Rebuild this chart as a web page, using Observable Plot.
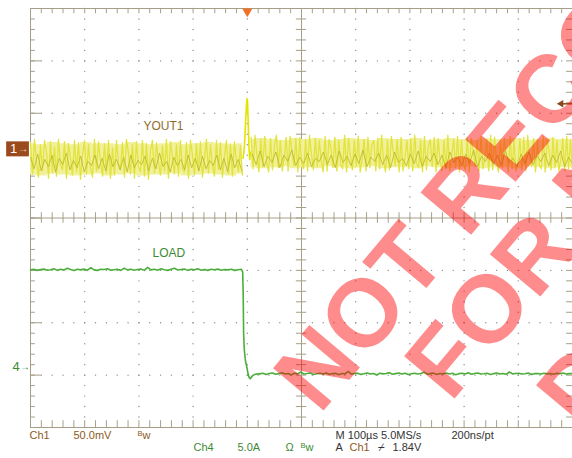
<!DOCTYPE html>
<html><head><meta charset="utf-8">
<script src="https://cdn.jsdelivr.net/npm/d3@7"></script>
<script src="https://cdn.jsdelivr.net/npm/@observablehq/plot@0.6"></script>
<style>html,body{margin:0;padding:0;background:#fff;overflow:hidden} #chart svg{display:block}</style>
</head><body><div id="chart"></div>
<script>
// ---------- scope settings ----------
const timeDomain = [-400, 600];          // µs, trigger at 0, 100 µs/div
const divDomain = [-4, 4];               // vertical divisions
const ch1Offset = 1.32, ch1Scale = 50;   // div, mV/div
const ch4Offset = -2.84, ch4Scale = 5;   // div, A/div
const trigLevel = 43;                    // mV on Ch1 display

// ---------- Ch1 (YOUT1) values in mV ----------
const ch1Pre = [6,-24,9,-12,-27,4,-21,8,-3,-28,7,-23,2,-26,9,-15,-20,7,-28,5,-9,-25,8,-22,6,-29,-6,8,-24,4,-18,-27,9,-21,7,-11,-26,5,-23,8,-28,1,-25,8,-14,-20,6,-27,9,-4,-24,4,-28,7,-17,-22,8,-26,5,-29,-2,8,-23,6,-13,-25,3,-21,9,-28,7,-8,-24,4,-26,8,-19,-22,6,-28,8,-5,-25,5,-21,7,-27,-10,9,-23,4,-16,-26,8,-20,6,-27,-7,8,-24,5,-26,7,-12,-22,3,-25];
const ch1CorePre = [-8,-19,-5,-21,-10,-17,-6,-22,-9,-15,-4,-20,-11,-18,-7,-22,-12,-16,-6,-19,-9,-21,-5,-17,-10,-20,-8,-22,-6,-18,-11,-15,-7,-21,-9,-19,-4,-17,-12,-22,-8,-16,-10,-20,-6,-18,-9,-21,-7,-19,-11,-16,-6,-20,-9,-22,-5,-18,-10,-21];
const ch1EnvHiPre = [5,4,6,5,4,6,5,5,4,6,5,4,5,6,4,5,6,5,4,5];
const ch1EnvLoPre = [-25,-26,-24,-25,-26,-25,-24,-26,-25,-24,-26,-25,-25,-24,-26,-25,-24,-25,-26,-24];
const spikeT = [-8,-6,-4.5,-3,-1.5,-0.5,0.3,1.2,2.2,3.2,4.5,6];
const spikeV = [-9,-2,10,28,42,48,46,34,16,0,-10,-3];
const ch1Post = [11,-19,13,-6,-22,9,-17,12,-13,-22,10,-20,3,13,-18,8,-21,-9,11,-21,12,-2,-16,10,-22,11,-14,-19,9,-21,13,-5,-20,10,-17,8,-11,-22,12,-21,9,0,-18,11,-21,8,-15,-19,13,-22,10,-7,-20,8,-17,12,-22,-10,9,-21,11,-18,4,8,-21,10,-19,13,-12,-22,8,-20,12,-3,-16,9,-22,11,-21,-8,8,-19,10,-21,13,-14,-18,8,-22,12,-20,2,9,-17,11,-22,10,-11,-21,8,-19,13,-21,-6,9,-18,12,-22,8,-15,-20,11,-22,10,-1,-17,8,-21,12,-19,-9,9,-21,13,-20,11,-13,-22,8,-18,10,-4,-22,12,-19,8,-21,-12,9,-20,11,-21,13,-7,-17,10,-22,8,-16,-19,12,-22,9,-2,-20,11,-18,8,-21,-10,10,-21,12,-19,9,-22];
const ch1CorePost = [-5,-15,-2,-17,-7,-13,-3,-18,-6,-12,-1,-16,-8,-14,-4,-17,-9,-12,-3,-15,-6,-18,-2,-13,-7,-16,-5,-14,-1,-17,-8,-12,-4,-15,-6,-18,-3,-13,-9,-16,-5,-14,-2,-17,-7,-12,-4,-15,-6,-18,-3,-13,-8,-16,-5,-14,-1,-17,-7,-12,-4,-15,-6,-16,-2,-13,-9,-17,-5,-14,-3,-15,-7,-12,-4,-16,-6,-13,-2,-17,-8,-14];
const ch1EnvHiPost = [9,10,9,8,10,9,10,8,9,10,9,8,10,9,9,10,8,9,10,9,8,10,9,9,10,8,9,10,9,9];
const ch1EnvLoPost = [-18,-19,-18,-17,-19,-18,-19,-17,-18,-19,-18,-17,-19,-18,-18,-19,-17,-18,-19,-18,-17,-19,-18,-18,-19,-17,-18,-19,-18,-18];

// ---------- Ch4 (LOAD) values in A ----------
const ch4Pre = [9.25,9.3,9.2,9.28,9.32,9.22,9.26,9.35,9.2,9.3,9.24,9.4,9.28,9.18,9.3,9.25,9.32,9.22,9.45,9.25,9.2,9.3,9.28,9.35,9.22,9.26,9.3,9.2,9.4,9.25,9.3,9.22,9.28,9.32,9.2,9.48,9.25,9.3,9.22,9.35,9.26,9.2,9.3,9.4,9.24,9.28,9.32,9.2,9.3,9.25,9.35,9.22,9.28,9.2,9.3,9.26,9.32,9.22,9.28,9.25,9.3,9.2,9.26,9.3];
const ch4EdgeT = [-10,-8.5,-7.6,-6.8,-5.5,-3.5,-1,1.5,3.5,5.5,8,11,15,20];
const ch4EdgeA = [9.2,9.05,7.0,3.2,1.6,0.6,0.0,-0.7,-1.05,-1.15,-0.95,-0.8,-0.72,-0.68];
const ch4Post = [-0.68,-0.62,-0.75,-0.65,-0.6,-0.72,-0.66,-0.58,-0.7,-0.64,-0.78,-0.62,-0.68,-0.5,-0.7,-0.65,-0.6,-0.74,-0.67,-0.63,-0.7,-0.59,-0.72,-0.66,-0.62,-0.76,-0.64,-0.68,-0.45,-0.7,-0.65,-0.61,-0.73,-0.67,-0.6,-0.7,-0.64,-0.78,-0.62,-0.68,-0.65,-0.56,-0.72,-0.66,-0.6,-0.7,-0.63,-0.75,-0.67,-0.62,-0.69,-0.64,-0.52,-0.71,-0.66,-0.61,-0.74,-0.65,-0.68,-0.6,-0.7,-0.63,-0.76,-0.66,-0.62,-0.69,-0.58,-0.72,-0.65,-0.6,-0.7,-0.67,-0.63,-0.74,-0.66,-0.61,-0.69,-0.64,-0.72,-0.5,-0.68,-0.65,-0.62,-0.7,-0.67,-0.6,-0.73,-0.66,-0.64,-0.7,-0.62,-0.68,-0.65,-0.71,-0.63,-0.67,-0.6,-0.7,-0.66,-0.64];

// ---------- texts ----------
const channelLabels = ["YOUT1", "LOAD"];
const status1 = ["Ch1", "50.0mV", "M 100µs 5.0MS/s", "200ns/pt"];
const status2 = ["Ch4", "5.0A", "Ω", "A", "Ch1", "⌿", "1.84V"];
const watermark = ["NOT RECOMMENDED", "FOR NEW", "DESIGNS"];

// ---------- build tables ----------
const spread = (vals, t0, t1) => vals.map((v, i) => ({t: t0 + i * (t1 - t0) / (vals.length - 1), v}));
const band = (hi, lo, t0, t1) => hi.map((h, i) => ({t: t0 + i * (t1 - t0) / (hi.length - 1), hi: h, lo: lo[i]}));
const ch1Div = d => ch1Offset + d.v / ch1Scale;
const ch4Div = d => ch4Offset + d.v / ch4Scale;
const ch1PreRows = spread(ch1Pre, -400, -9);
const ch1PostRows = spread(ch1Post, 7, 600);
const ch1CorePreRows = spread(ch1CorePre, -400, -10);
const ch1CorePostRows = spread(ch1CorePost, 9, 600);
const envPre = band(ch1EnvHiPre, ch1EnvLoPre, -400, -9);
const envPost = band(ch1EnvHiPost, ch1EnvLoPost, 7, 600);
const spikeRows = spikeT.map((t, i) => ({t, v: spikeV[i]}));
const ch4Rows = [
  ...spread(ch4Pre, -400, -11),
  ...ch4EdgeT.map((t, i) => ({t, v: ch4EdgeA[i]})),
  ...spread(ch4Post, 23, 600)
];

// graticule
const majorX = d3.range(-400, 601, 100);
const majorY = d3.range(-4, 4.01, 1);
const minorX = d3.range(-400, 600.1, 20);
const minorY = d3.range(-4, 4.01, 0.2);
const gridDots = [];
for (const x of majorX) if (x !== -400 && x !== 100 && x !== 600) for (const y of minorY) gridDots.push({x, y});
for (const y of majorY) if (Math.abs(y) > 0.01 && Math.abs(y) < 3.99) for (const x of minorX) gridDots.push({x, y});

const frameCol = "#a69f88";
const brown = "#8d5a22";
const green = "#3d8a35";
const dark = "#333333";
const font = "'Liberation Sans', Arial, sans-serif";

// status line layout: [text, px-left, line, color]
const statusLayout = [
  [status1[0], 29, 0, brown], [status1[1], 73, 0, brown], [status1[2], 335, 0, dark], [status1[3], 451, 0, dark],
  [status2[0], 193, 1, green], [status2[1], 237, 1, green], [status2[2], 285, 1, green],
  [status2[3], 335, 1, dark], [status2[4], 349, 1, brown], [status2[5], 377, 1, dark], [status2[6], 392, 1, dark]
];
const bwLayout = [[137, 0, brown], [300, 1, green]];
// watermark layout: [px-x, px-y of baseline start]
const wmLayout = [[319, 415], [450, 403], [582, 432]];

const chart = Plot.plot({
  width: 572, height: 458,
  marginLeft: 30, marginRight: 0, marginTop: 8, marginBottom: 31,
  x: {domain: timeDomain, axis: null},
  y: {domain: divDomain, axis: null},
  style: {background: "#fff", fontFamily: font, overflow: "visible"},
  marks: [
    // graticule
    Plot.dot(gridDots, {x: "x", y: "y", r: 0.7, fill: "#8c8c8c", stroke: null}),
    Plot.ruleX([100], {stroke: frameCol}),
    Plot.ruleY([0], {stroke: frameCol}),
    Plot.ruleY(minorY, {x1: 100 - 9.5, x2: 100 + 9.5, stroke: frameCol}),
    Plot.ruleX(minorX, {y1: -0.1, y2: 0.1, stroke: frameCol}),
    Plot.ruleX([-400], {stroke: frameCol}),
    Plot.ruleY([4, -4], {stroke: frameCol}),
    Plot.ruleX(minorX, {y1: 4, y2: 3.9, stroke: frameCol}),
    Plot.ruleX(minorX, {y1: -4, y2: -3.87, stroke: frameCol}),
    Plot.ruleY(minorY, {x1: -400, x2: -391, stroke: frameCol}),
    Plot.ruleY(majorY, {x1: -400, x2: -380, stroke: frameCol}),
    Plot.ruleY(minorY, {x1: 589, x2: 600, stroke: frameCol}),
    // Ch1 trace (persistence band)
    Plot.areaY(envPre, {x: "t", y1: d => ch1Offset + d.lo / ch1Scale, y2: d => ch1Offset + d.hi / ch1Scale, fill: "#f1f19c", curve: "step"}),
    Plot.areaY(envPost, {x: "t", y1: d => ch1Offset + d.lo / ch1Scale, y2: d => ch1Offset + d.hi / ch1Scale, fill: "#f1f19c", curve: "step"}),
    Plot.line(ch1PreRows, {x: "t", y: ch1Div, stroke: "#e3e340", strokeWidth: 1.3}),
    Plot.line(ch1PostRows, {x: "t", y: ch1Div, stroke: "#e3e340", strokeWidth: 1.3}),
    Plot.line(ch1CorePreRows, {x: "t", y: ch1Div, stroke: "#bdb828", strokeWidth: 1, strokeOpacity: 0.85}),
    Plot.line(ch1CorePostRows, {x: "t", y: ch1Div, stroke: "#bdb828", strokeWidth: 1, strokeOpacity: 0.85}),
    Plot.line(spikeRows, {x: "t", y: ch1Div, stroke: "#e4e400", strokeWidth: 1.6}),
    // Ch4 trace
    Plot.line(ch4Rows, {x: "t", y: ch4Div, stroke: "#4cae3a", strokeWidth: 1.6}),
    // channel labels
    Plot.text([channelLabels[0]], {frameAnchor: "top-left", dx: 113, dy: 113, text: d => d, textAnchor: "start", fill: "#8e6c2c", fontSize: 12}),
    Plot.text([channelLabels[1]], {frameAnchor: "top-left", dx: 122, dy: 240, text: d => d, textAnchor: "start", fill: green, fontSize: 12}),
    // channel reference markers
    Plot.ruleY([ch1Offset], {x1: -444, x2: -402, stroke: "#9a4a1c", strokeWidth: 15}),
    Plot.text(["1"], {x: -431, y: ch1Offset, text: d => d, fill: "#fff", fontSize: 13}),
    Plot.text(["→"], {x: -404, y: ch1Offset, text: d => d, fill: "#f3e6d8", fontSize: 10, textAnchor: "end"}),
    Plot.text(["4"], {x: -420, y: ch4Offset, text: d => d, fill: green, fontSize: 13, textAnchor: "end"}),
    Plot.text(["→"], {x: -401, y: ch4Offset, text: d => d, fill: green, fontSize: 10, textAnchor: "end"}),
    // trigger position and level
    Plot.dot([0], {x: d => d, y: 4, symbol: "triangle", rotate: 180, r: 3.8, dy: 2.9, fill: "#f07026", stroke: null}),
    Plot.ruleY([ch1Offset + trigLevel / ch1Scale], {x1: 578, x2: 600, stroke: "#8a4a1e", strokeWidth: 1.5}),
    Plot.dot([ch1Offset + trigLevel / ch1Scale], {x: 579, y: d => d, symbol: "triangle", rotate: -90, r: 2.8, fill: "#8a4a1e", stroke: null}),
    // watermark
    ...watermark.map((w, i) => Plot.text([w], {frameAnchor: "bottom-left", dx: wmLayout[i][0] - 30, dy: wmLayout[i][1] - 427, text: d => d, rotate: -50, textAnchor: "start", lineAnchor: "bottom", fontSize: 96, fontWeight: "bold", fill: "#ff0000", fillOpacity: 0.45})),
    // status lines
    ...statusLayout.map(([t, px, line, col]) =>
      Plot.text([t], {frameAnchor: "bottom-left", dx: px - 30, dy: line ? 23 : 11, text: d => d, textAnchor: "start", fill: col, fontSize: 11})),
    ...bwLayout.map(([px, line, col]) => [
      Plot.text(["B"], {frameAnchor: "bottom-left", dx: px - 30, dy: (line ? 23 : 11) - 3, text: d => d, textAnchor: "start", fill: col, fontSize: 7.5}),
      Plot.text(["w"], {frameAnchor: "bottom-left", dx: px - 30 + 5, dy: line ? 23 : 11, text: d => d, textAnchor: "start", fill: col, fontSize: 11})
    ]).flat()
  ]
});
document.getElementById("chart").append(chart);
</script></body></html>
